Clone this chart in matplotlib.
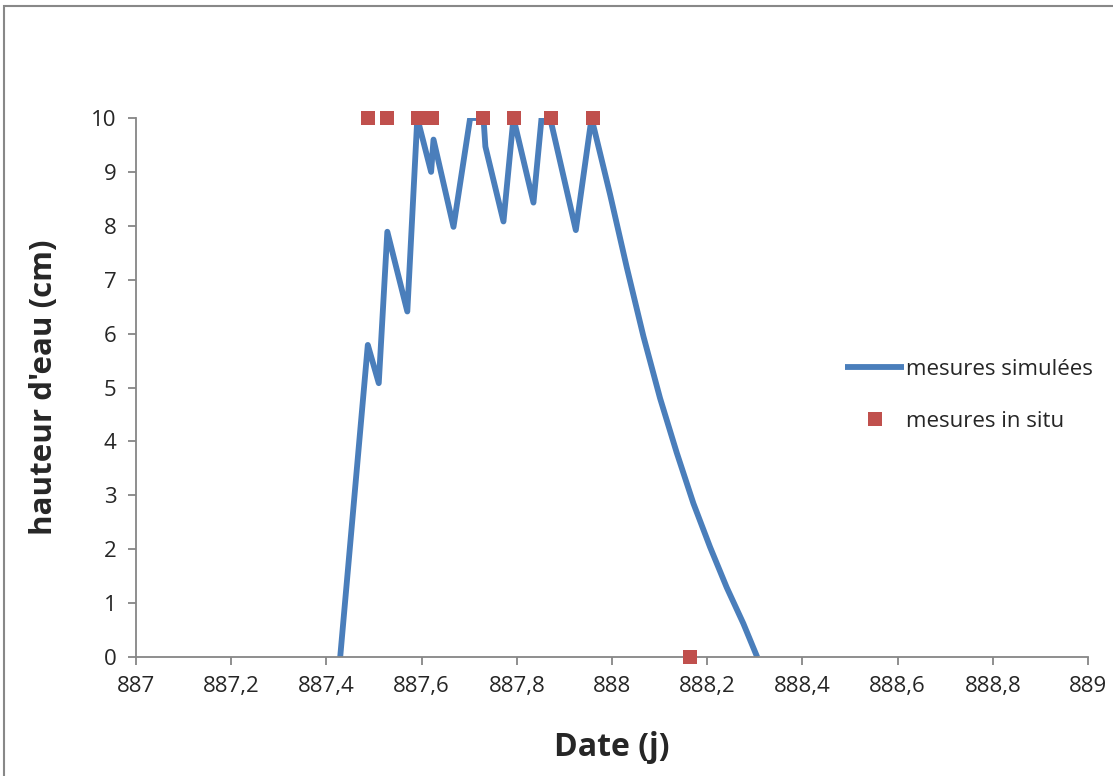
import matplotlib.pyplot as plt
from matplotlib.patches import Rectangle

plt.rcParams['font.family'] = ['Open Sans', 'DejaVu Sans']

# Données
sim_x = [887.429, 887.487, 887.510, 887.528, 887.570, 887.591, 887.620, 887.625,
         887.667, 887.702, 887.730, 887.734, 887.772, 887.793, 887.835, 887.852,
         887.870, 887.924, 887.957, 887.996, 888.031, 888.066, 888.101, 888.136,
         888.171, 888.206, 888.241, 888.276, 888.305]
sim_y = [0, 5.79, 5.08, 7.89, 6.41, 10, 9.00, 9.6,
         7.98, 10, 10, 9.47, 8.08, 10, 8.43, 10,
         10, 7.92, 10, 8.58, 7.23, 5.95, 4.80, 3.79,
         2.85, 2.04, 1.29, 0.62, 0]

insitu_x = [887.487, 887.527, 887.592, 887.622, 887.729, 887.794, 887.872, 887.960, 888.164]
insitu_y = [10, 10, 10, 10, 10, 10, 10, 10, 0]

x_ticks = [887, 887.2, 887.4, 887.6, 887.8, 888, 888.2, 888.4, 888.6, 888.8, 889]
x_tick_labels = ['887', '887,2', '887,4', '887,6', '887,8', '888',
                 '888,2', '888,4', '888,6', '888,8', '889']
y_ticks = list(range(0, 11))

fig = plt.figure(figsize=(11.13, 7.76), dpi=100)
ax = fig.add_axes([136 / 1113, 1 - 657 / 776, (1088 - 136) / 1113, (657 - 118) / 776])

# cadre extérieur
fig.patches.append(Rectangle((3.5 / 1113, -0.1), 1.2, (776 - 6.5) / 776 + 0.1,
                             transform=fig.transFigure, fill=False,
                             edgecolor='#888888', linewidth=1.5))

ax.plot(sim_x, sim_y, color='#4A7EBB', linewidth=4.2, solid_joinstyle='round',
        solid_capstyle='butt', label='mesures simulées', zorder=2)
ax.plot(insitu_x, insitu_y, linestyle='none', marker='s', markersize=10.5,
        color='#C0504D', markeredgewidth=0, label='mesures in situ',
        clip_on=False, zorder=3)

ax.set_xlim(887, 889)
ax.set_ylim(0, 10)
ax.set_xticks(x_ticks)
ax.set_xticklabels(x_tick_labels)
ax.set_yticks(y_ticks)

for s in ['top', 'right']:
    ax.spines[s].set_visible(False)
for s in ['left', 'bottom']:
    ax.spines[s].set_color('#868686')
    ax.spines[s].set_linewidth(1.3)

ax.tick_params(axis='both', colors='#868686', labelcolor='#262626',
               labelsize=16, length=6, width=1.3, direction='out')
ax.tick_params(axis='x', pad=8)
ax.tick_params(axis='y', pad=8)

ax.set_xlabel('Date (j)', fontsize=23, fontweight='bold', color='#262626', labelpad=24)
ax.set_ylabel("hauteur d'eau (cm)", fontsize=22.5, fontweight='bold', color='#262626', labelpad=23)

ax.legend(loc='center left', bbox_to_anchor=(0.724, 0.485), frameon=False,
          fontsize=16, handlelength=2.65, handletextpad=0.1, labelspacing=1.4,
          labelcolor='#262626')

fig.savefig('out.png', dpi=100)
